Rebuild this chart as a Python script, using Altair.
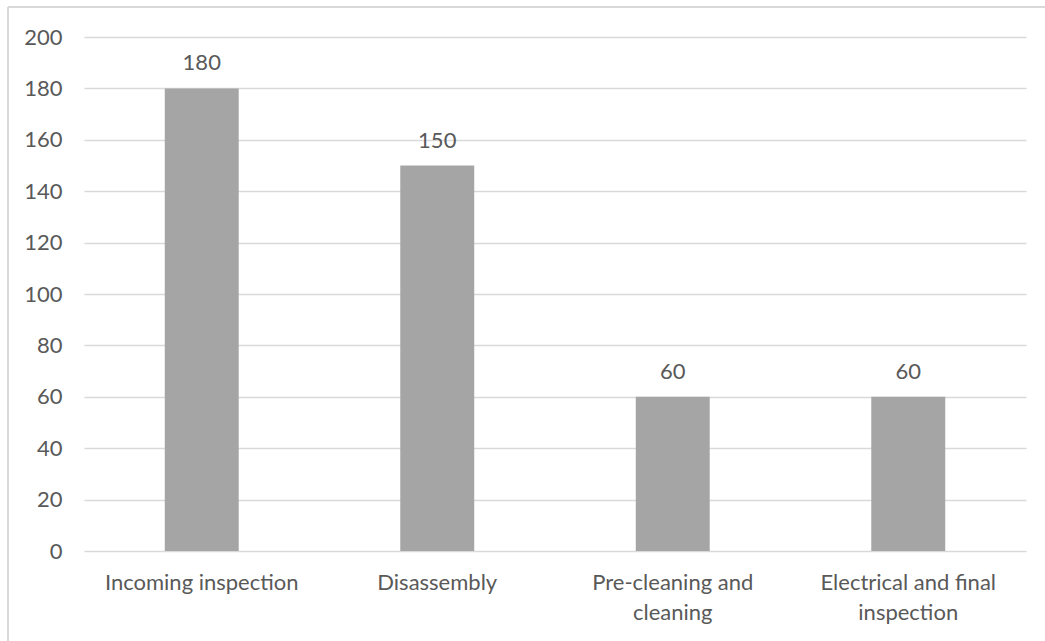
import altair as alt
import pandas as pd

# Process steps and their durations
steps = [
    "Incoming inspection",
    "Disassembly",
    "Pre-cleaning and\ncleaning",
    "Electrical and final\ninspection",
]
durations = [180, 150, 60, 60]

df = pd.DataFrame({"step": steps, "value": durations})

TEXT = "#595959"
GRID = "#D9D9D9"
BAR = "#A5A5A5"
FONT = "Lato"

W, H = 942, 514

x_enc = alt.X(
    "step:N",
    sort=steps,
    title=None,
    scale=alt.Scale(paddingInner=0.686, paddingOuter=0.343),
    axis=alt.Axis(
        labelAngle=0,
        labelExpr="split(datum.label, '\\n')",
        labelFontSize=22,
        labelColor=TEXT,
        labelFont=FONT,
        labelPadding=21,
        labelLineHeight=30,
        labelLimit=0,
        ticks=False,
        tickSize=0,
        domain=False,
        grid=False,
    ),
)

y_enc = alt.Y(
    "value:Q",
    title=None,
    scale=alt.Scale(domain=[0, 200], nice=False),
    axis=alt.Axis(
        values=list(range(0, 201, 20)),
        labelFontSize=22,
        labelColor=TEXT,
        labelFont=FONT,
        labelPadding=22,
        ticks=False,
        tickSize=0,
        domain=False,
        grid=True,
        gridColor=GRID,
        gridWidth=1.5,
    ),
)

bars = alt.Chart(df).mark_bar(color=BAR).encode(x=x_enc, y=y_enc)

labels = alt.Chart(df).mark_text(
    dy=-18, baseline="alphabetic", fontSize=22, color=TEXT, font=FONT
).encode(x=alt.X("step:N", sort=steps), y="value:Q", text="value:Q")

# Outer chart frame (left and top edges)
frame_left = alt.Chart(df).mark_rule(color=GRID, strokeWidth=2).encode(
    x=alt.value(-76), y=alt.value(-30), y2=alt.value(H + 120)
)
frame_top = alt.Chart(df).mark_rule(color=GRID, strokeWidth=2).encode(
    x=alt.value(-76), x2=alt.value(W + 60), y=alt.value(-30)
)

chart = (
    alt.layer(frame_left, frame_top, bars, labels)
    .properties(
        width=W,
        height=H,
        autosize=alt.AutoSizeParams(type="none"),
        padding={"left": 84, "top": 37, "right": 19, "bottom": 90},
        background="white",
    )
    .configure_view(stroke=None)
)

chart.save("out.html", embed_options={"renderer": "svg", "actions": False})
